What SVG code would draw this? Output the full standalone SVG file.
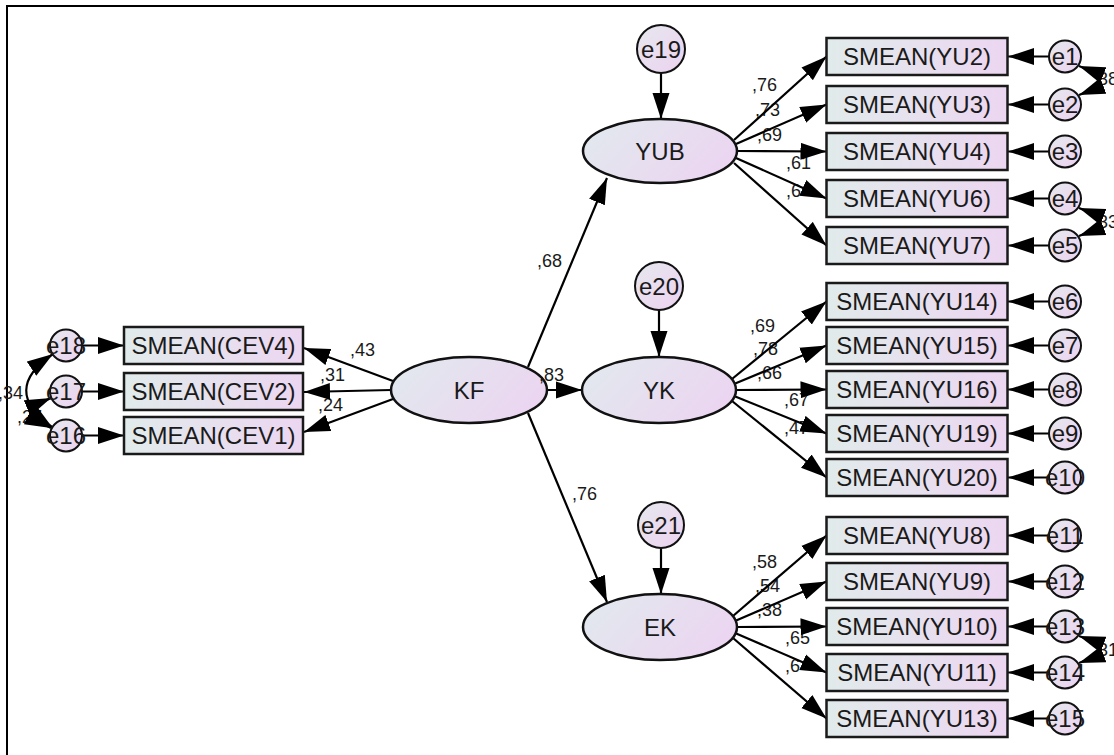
<svg xmlns="http://www.w3.org/2000/svg" width="1114" height="755" viewBox="0 0 1114 755">
<style>
text{font-family:"Liberation Sans",Arial,sans-serif;fill:#1a1a1a}
.nt{font-size:24px;text-anchor:middle}
.lb{font-size:18px}
.box{fill:url(#gBox);stroke:#1a1a1a;stroke-width:2.5}
.lat{fill:url(#gEll);stroke:#111;stroke-width:2.5}
.err{fill:url(#gCir);stroke:#111;stroke-width:2}
.c{fill:none;stroke:#000;stroke-width:2.2;marker-end:url(#ah)}
.cov{fill:none;stroke:#000;stroke-width:2.2;marker-start:url(#ah);marker-end:url(#ah)}
</style>
<defs>
<linearGradient id="gBox" x1="0" y1="0" x2="1" y2="0"><stop offset="0" stop-color="#e1ebeb"/><stop offset="1" stop-color="#ecd6f1"/></linearGradient>
<linearGradient id="gEll" x1="0" y1="0.3" x2="1" y2="0.7"><stop offset="0" stop-color="#e2e8ee"/><stop offset="1" stop-color="#ecd4f1"/></linearGradient>
<linearGradient id="gCir" x1="0" y1="0" x2="1" y2="1"><stop offset="0" stop-color="#e6e8ee"/><stop offset="1" stop-color="#ecd2f0"/></linearGradient>
<marker id="ah" markerUnits="userSpaceOnUse" markerWidth="27" markerHeight="18" refX="26" refY="9" orient="auto-start-reverse" viewBox="0 0 27 18"><path d="M0,0.5 L26,9 L0,17.5 z" fill="#000"/></marker>
</defs>
<path d="M1114,6 H7 V755" fill="none" stroke="#000" stroke-width="2"/>
<g id="labels" class="lb">
<text x="537" y="267">,68</text>
<text x="572" y="500">,76</text>
<text x="350" y="356">,43</text>
<text x="320" y="381">,31</text>
<text x="318" y="411">,24</text>
<text x="752" y="91">,76</text>
<text x="755" y="116">,73</text>
<text x="757" y="141">,69</text>
<text x="786" y="169">,61</text>
<text x="786" y="197">,6</text>
<text x="750" y="332">,69</text>
<text x="753" y="355">,78</text>
<text x="757" y="379">,66</text>
<text x="784" y="406">,67</text>
<text x="784" y="434">,47</text>
<text x="752" y="568">,58</text>
<text x="755" y="592">,54</text>
<text x="757" y="616">,38</text>
<text x="785" y="644">,65</text>
<text x="785" y="672">,6</text>
<text x="-2" y="399">,34</text>
<text x="17" y="423">,27</text>
<text x="1093" y="85">,38</text>
<text x="1093" y="228">,33</text>
<text x="1093" y="656">,31</text>
</g>
<g id="connectors">
<path class="c" d="M528,367 L607,178"/>
<path class="c" d="M547,390 L582,390"/>
<path class="c" d="M528,413 L607,602"/>
<path class="c" d="M393,381 L304,348"/>
<path class="c" d="M391,390 L304,392"/>
<path class="c" d="M393,399 L304,432"/>
<path class="c" d="M661,73 L661,119"/>
<path class="c" d="M659,310 L659,357"/>
<path class="c" d="M661,548 L661,594"/>
<path class="c" d="M734,140 L826.5,56.5"/>
<path class="c" d="M736,144 L826.5,104.5"/>
<path class="c" d="M737,151 L826.5,151.5"/>
<path class="c" d="M736,158 L826.5,198.5"/>
<path class="c" d="M734,163 L826.5,245.5"/>
<path class="c" d="M732,379 L826.5,301.5"/>
<path class="c" d="M734,384 L826.5,345.5"/>
<path class="c" d="M736,390 L826.5,389.5"/>
<path class="c" d="M734,396 L826.5,433.5"/>
<path class="c" d="M732,401 L826.5,477.5"/>
<path class="c" d="M733,616 L826.5,535.5"/>
<path class="c" d="M735,621 L826.5,581.5"/>
<path class="c" d="M737,627 L826.5,626.5"/>
<path class="c" d="M735,633 L826.5,672.5"/>
<path class="c" d="M733,638 L826.5,718.5"/>
<path class="c" d="M1049,56.5 L1008,56.5"/>
<path class="c" d="M1049,104.5 L1008,104.5"/>
<path class="c" d="M1049,151.5 L1008,151.5"/>
<path class="c" d="M1049,198.5 L1008,198.5"/>
<path class="c" d="M1049,245.5 L1008,245.5"/>
<path class="c" d="M1049,301.5 L1008,301.5"/>
<path class="c" d="M1049,345.5 L1008,345.5"/>
<path class="c" d="M1049,389.5 L1008,389.5"/>
<path class="c" d="M1049,433.5 L1008,433.5"/>
<path class="c" d="M1049,477.5 L1008,477.5"/>
<path class="c" d="M1049,535.5 L1008,535.5"/>
<path class="c" d="M1049,581.5 L1008,581.5"/>
<path class="c" d="M1049,626.5 L1008,626.5"/>
<path class="c" d="M1049,672.5 L1008,672.5"/>
<path class="c" d="M1049,718.5 L1008,718.5"/>
<path class="c" d="M82,345.5 L124,345.5"/>
<path class="c" d="M82,391.5 L124,391.5"/>
<path class="c" d="M82,435.5 L124,435.5"/>
<path class="cov" d="M1079,66 Q1117,80.5 1079,95"/>
<path class="cov" d="M1079,208 Q1117,222 1079,236"/>
<path class="cov" d="M1079,636 Q1117,649.5 1079,663"/>
<path class="cov" d="M53,354 Q0,390 52,427"/>
<path class="cov" d="M51,398 Q18,412 51,428"/>
</g>
<g id="KF"><ellipse class="lat" cx="469" cy="390" rx="78" ry="33"/><text class="nt" x="469" y="398.5">KF</text></g>
<g id="YUB"><ellipse class="lat" cx="660" cy="151" rx="77" ry="32"/><text class="nt" x="660" y="159.5">YUB</text></g>
<g id="YK"><ellipse class="lat" cx="659" cy="390" rx="77" ry="33"/><text class="nt" x="659" y="398.5">YK</text></g>
<g id="EK"><ellipse class="lat" cx="660" cy="627" rx="77" ry="33"/><text class="nt" x="660" y="635.5">EK</text></g>
<g id="e19"><circle class="err" cx="661" cy="49" r="24"/><text class="nt" x="661" y="57.5">e19</text></g>
<g id="e20"><circle class="err" cx="659" cy="286" r="24"/><text class="nt" x="659" y="294.5">e20</text></g>
<g id="e21"><circle class="err" cx="661" cy="525" r="23"/><text class="nt" x="661" y="533.5">e21</text></g>
<g id="CEV4"><rect class="box" x="124" y="327" width="179" height="37"/><text class="nt" x="213.5" y="354">SMEAN(CEV4)</text></g>
<g id="CEV2"><rect class="box" x="124" y="373" width="179" height="37"/><text class="nt" x="213.5" y="400">SMEAN(CEV2)</text></g>
<g id="CEV1"><rect class="box" x="124" y="417" width="179" height="37"/><text class="nt" x="213.5" y="444">SMEAN(CEV1)</text></g>
<g id="YU2"><rect class="box" x="826.5" y="38" width="181" height="37"/><text class="nt" x="917" y="65">SMEAN(YU2)</text></g>
<g id="YU3"><rect class="box" x="826.5" y="86" width="181" height="37"/><text class="nt" x="917" y="113">SMEAN(YU3)</text></g>
<g id="YU4"><rect class="box" x="826.5" y="133" width="181" height="37"/><text class="nt" x="917" y="160">SMEAN(YU4)</text></g>
<g id="YU6"><rect class="box" x="826.5" y="180" width="181" height="37"/><text class="nt" x="917" y="207">SMEAN(YU6)</text></g>
<g id="YU7"><rect class="box" x="826.5" y="227" width="181" height="37"/><text class="nt" x="917" y="254">SMEAN(YU7)</text></g>
<g id="YU14"><rect class="box" x="826.5" y="283" width="181" height="37"/><text class="nt" x="917" y="310">SMEAN(YU14)</text></g>
<g id="YU15"><rect class="box" x="826.5" y="327" width="181" height="37"/><text class="nt" x="917" y="354">SMEAN(YU15)</text></g>
<g id="YU16"><rect class="box" x="826.5" y="371" width="181" height="37"/><text class="nt" x="917" y="398">SMEAN(YU16)</text></g>
<g id="YU19"><rect class="box" x="826.5" y="415" width="181" height="37"/><text class="nt" x="917" y="442">SMEAN(YU19)</text></g>
<g id="YU20"><rect class="box" x="826.5" y="459" width="181" height="37"/><text class="nt" x="917" y="486">SMEAN(YU20)</text></g>
<g id="YU8"><rect class="box" x="826.5" y="517" width="181" height="37"/><text class="nt" x="917" y="544">SMEAN(YU8)</text></g>
<g id="YU9"><rect class="box" x="826.5" y="563" width="181" height="37"/><text class="nt" x="917" y="590">SMEAN(YU9)</text></g>
<g id="YU10"><rect class="box" x="826.5" y="608" width="181" height="37"/><text class="nt" x="917" y="635">SMEAN(YU10)</text></g>
<g id="YU11"><rect class="box" x="826.5" y="654" width="181" height="37"/><text class="nt" x="917" y="681">SMEAN(YU11)</text></g>
<g id="YU13"><rect class="box" x="826.5" y="700" width="181" height="37"/><text class="nt" x="917" y="727">SMEAN(YU13)</text></g>
<g id="e1"><circle class="err" cx="1065" cy="56.5" r="16"/><text class="nt" x="1065" y="65">e1</text></g>
<g id="e2"><circle class="err" cx="1065" cy="104.5" r="16"/><text class="nt" x="1065" y="113">e2</text></g>
<g id="e3"><circle class="err" cx="1065" cy="151.5" r="16"/><text class="nt" x="1065" y="160">e3</text></g>
<g id="e4"><circle class="err" cx="1065" cy="198.5" r="16"/><text class="nt" x="1065" y="207">e4</text></g>
<g id="e5"><circle class="err" cx="1065" cy="245.5" r="16"/><text class="nt" x="1065" y="254">e5</text></g>
<g id="e6"><circle class="err" cx="1065" cy="301.5" r="16"/><text class="nt" x="1065" y="310">e6</text></g>
<g id="e7"><circle class="err" cx="1065" cy="345.5" r="16"/><text class="nt" x="1065" y="354">e7</text></g>
<g id="e8"><circle class="err" cx="1065" cy="389.5" r="16"/><text class="nt" x="1065" y="398">e8</text></g>
<g id="e9"><circle class="err" cx="1065" cy="433.5" r="16"/><text class="nt" x="1065" y="442">e9</text></g>
<g id="e10"><circle class="err" cx="1065" cy="477.5" r="16"/><text class="nt" x="1065" y="486">e10</text></g>
<g id="e11"><circle class="err" cx="1065" cy="535.5" r="16"/><text class="nt" x="1065" y="544">e11</text></g>
<g id="e12"><circle class="err" cx="1065" cy="581.5" r="16"/><text class="nt" x="1065" y="590">e12</text></g>
<g id="e13"><circle class="err" cx="1065" cy="626.5" r="16"/><text class="nt" x="1065" y="635">e13</text></g>
<g id="e14"><circle class="err" cx="1065" cy="672.5" r="16"/><text class="nt" x="1065" y="681">e14</text></g>
<g id="e15"><circle class="err" cx="1065" cy="718.5" r="16"/><text class="nt" x="1065" y="727">e15</text></g>
<g id="e18"><circle class="err" cx="66" cy="345.5" r="16"/><text class="nt" x="66" y="354">e18</text></g>
<g id="e17"><circle class="err" cx="66" cy="391.5" r="16"/><text class="nt" x="66" y="400">e17</text></g>
<g id="e16"><circle class="err" cx="66" cy="435.5" r="16"/><text class="nt" x="66" y="444">e16</text></g>
<g id="label-kf-yk" class="lb"><text x="539" y="381">,83</text></g>
</svg>
